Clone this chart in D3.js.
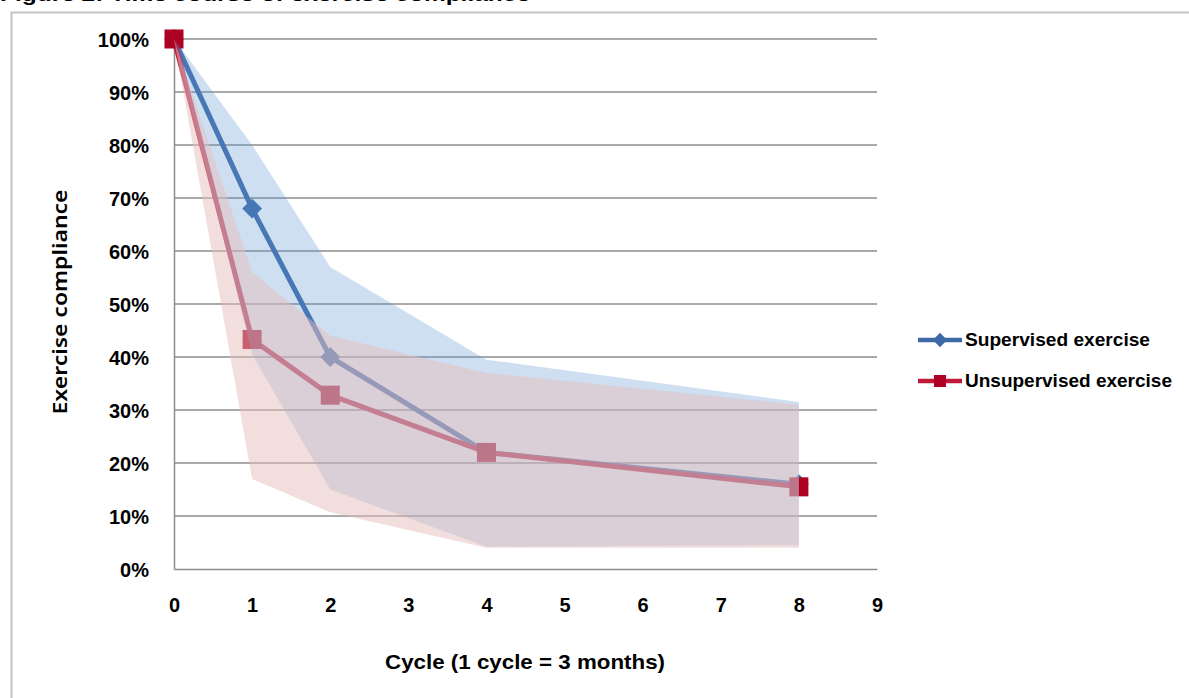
<!DOCTYPE html>
<html>
<head>
<meta charset="utf-8">
<script src="https://cdn.jsdelivr.net/npm/d3@7"></script>
<style>
  html, body { margin: 0; padding: 0; background: #fff; }
  svg { display: block; }
</style>
</head>
<body>
<div id="chart"></div>
<script>
// ---- Data ----
const cycles = [0, 1, 2, 4, 8];
const supervised = [100, 68, 40, 22, 16];
const unsupervised = [100, 43.3, 32.8, 22, 15.5];
const supervisedUpper = [100, 80, 57, 39.5, 31.5];
const supervisedLower = [100, 40.5, 15, 4.2, 4.5];
const unsupervisedUpper = [100, 56, 44, 37, 31];
const unsupervisedLower = [100, 17, 10.7, 4, 4];
const xTicks = [0, 1, 2, 3, 4, 5, 6, 7, 8, 9];
const yTicks = [0, 10, 20, 30, 40, 50, 60, 70, 80, 90, 100];
const seriesNames = ["Supervised exercise", "Unsupervised exercise"];
const titleText = "Figure 2: Time course of exercise compliance";
const xTitle = "Cycle (1 cycle = 3 months)";
const yTitle = "Exercise compliance";

const W = 1189, H = 698;
const svg = d3.select("#chart").append("svg").attr("width", W).attr("height", H);
svg.append("rect").attr("width", W).attr("height", H).attr("fill", "#fff");

// title, clipped at the very top as in the reference
svg.append("text").attr("x", 0).attr("y", 1)
  .attr("font-family", "Liberation Sans, Arial, sans-serif").attr("font-weight", "bold")
  .attr("font-size", 19).attr("fill", "#000")
  .attr("textLength", 530).attr("lengthAdjust", "spacingAndGlyphs")
  .text(titleText);

// chart frame
svg.append("path").attr("d", `M11.5,${H + 5} V12.5 H${W + 5}`)
  .attr("fill", "none").attr("stroke", "#c4c4c4").attr("stroke-width", 2);

const x = d3.scaleLinear().domain([0, 9]).range([174, 877]);
const y = d3.scaleLinear().domain([0, 100]).range([569, 39]);

const tickFont = "Liberation Sans, Arial, sans-serif";

// gridlines
svg.append("g").selectAll("line").data(yTicks.filter(d => d > 0)).join("line")
  .attr("x1", x(0)).attr("x2", x(9))
  .attr("y1", d => y(d)).attr("y2", d => y(d))
  .attr("stroke", "#8c8c8c").attr("stroke-width", 1.5);

// axes
const yAxis = d3.axisLeft(y).tickValues(yTicks).tickFormat(d => d + "%").tickSize(0).tickPadding(25);
const gy = svg.append("g").attr("transform", `translate(${x(0)},0)`).call(yAxis);
gy.select(".domain").attr("stroke", "#8c8c8c").attr("stroke-width", 1.5);
gy.selectAll("text").attr("font-family", tickFont).attr("font-weight", "bold")
  .attr("font-size", 20).attr("fill", "#000").attr("dy", "0.36em");

const xAxis = d3.axisBottom(x).tickValues(xTicks).tickFormat(d3.format("d")).tickSize(0).tickPadding(29);
const gx = svg.append("g").attr("transform", `translate(0,${y(0)})`).call(xAxis);
gx.select(".domain").attr("stroke", "#8c8c8c").attr("stroke-width", 1.5);
gx.selectAll("text").attr("font-family", tickFont).attr("font-weight", "bold")
  .attr("font-size", 20).attr("fill", "#000");

// axis titles
svg.append("text").attr("x", 525).attr("y", 669).attr("text-anchor", "middle")
  .attr("font-family", "Liberation Sans Narrow, Liberation Sans, sans-serif").attr("font-weight", "bold")
  .attr("font-size", 21).attr("textLength", 280).attr("lengthAdjust", "spacingAndGlyphs")
  .text(xTitle);
svg.append("text").attr("transform", "translate(67,302) rotate(-90)").attr("text-anchor", "middle")
  .attr("font-family", "Noto Sans, sans-serif").attr("font-weight", 600)
  .attr("font-size", 19).attr("textLength", 225).attr("lengthAdjust", "spacingAndGlyphs")
  .text(yTitle);

// lines
const blue = "#3d6aa6", red = "#c01a3a", redMarker = "#ad0023";
const line = d3.line().x((d, i) => x(cycles[i])).y(d => y(d));
svg.append("path").datum(supervised).attr("d", line).attr("fill", "none")
  .attr("stroke", blue).attr("stroke-width", 5).attr("stroke-linejoin", "round");
svg.append("path").datum(unsupervised).attr("d", line).attr("fill", "none")
  .attr("stroke", red).attr("stroke-width", 5).attr("stroke-linejoin", "round");

const diamond = d3.symbol().type(d3.symbolDiamond2).size(250);
svg.append("g").selectAll("path").data(supervised).join("path")
  .attr("d", diamond).attr("transform", (d, i) => `translate(${x(cycles[i])},${y(d)})`)
  .attr("fill", blue);
svg.append("g").selectAll("rect").data(unsupervised).join("rect")
  .attr("x", (d, i) => x(cycles[i]) - 9.5).attr("y", d => y(d) - 9.5)
  .attr("width", 19).attr("height", 19).attr("fill", redMarker);

// bands drawn on top (semi-transparent)
const area = (lo, hi) => d3.area().x((d, i) => x(cycles[i]))
  .y0((d, i) => y(lo[i])).y1((d, i) => y(hi[i]));
svg.append("path").attr("d", area(supervisedLower, supervisedUpper)(cycles))
  .attr("fill", "rgb(95,148,211)").attr("fill-opacity", 0.3);
svg.append("path").attr("d", area(unsupervisedLower, unsupervisedUpper)(cycles))
  .attr("fill", "rgb(229,190,188)").attr("fill-opacity", 0.5);

// legend
const legend = svg.append("g");
const lg = [{name: seriesNames[0], color: blue, y: 340, len: 185, type: "d"},
            {name: seriesNames[1], color: red, y: 381, len: 207, type: "s"}];
lg.forEach(L => {
  legend.append("line").attr("x1", 918).attr("x2", 962).attr("y1", L.y).attr("y2", L.y)
    .attr("stroke", L.color).attr("stroke-width", 4.5);
  if (L.type === "d") {
    legend.append("path").attr("d", d3.symbol().type(d3.symbolDiamond2).size(130)())
      .attr("transform", `translate(940,${L.y})`).attr("fill", L.color);
  } else {
    legend.append("rect").attr("x", 934).attr("y", L.y - 6).attr("width", 12).attr("height", 12)
      .attr("fill", redMarker);
  }
  legend.append("text").attr("x", 965).attr("y", L.y + 6)
    .attr("font-family", "Liberation Sans Narrow, Liberation Sans, sans-serif").attr("font-weight", "bold")
    .attr("font-size", 18).attr("textLength", L.len).attr("lengthAdjust", "spacingAndGlyphs")
    .text(L.name);
});
</script>
</body>
</html>
